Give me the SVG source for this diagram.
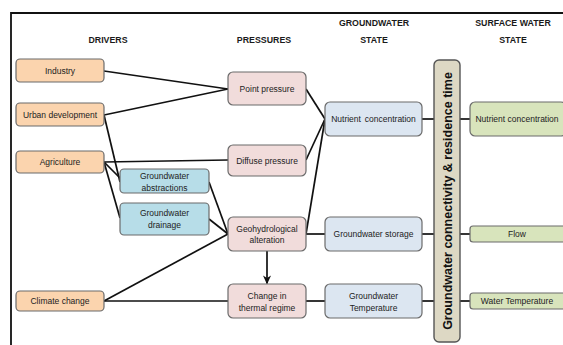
<svg xmlns="http://www.w3.org/2000/svg" width="563" height="345" viewBox="0 0 563 345">
<defs>
<style>
.hdr{font-family:"Liberation Sans",Arial,sans-serif;font-size:8.8px;font-weight:bold;fill:#1a1a1a;text-anchor:middle}
.t{font-family:"Liberation Sans",Arial,sans-serif;font-size:8.5px;fill:#222;text-anchor:middle}
.box{stroke:#6b6b6b;stroke-width:1.2}
.drv{fill:#fbd4ae}
.gw{fill:#b7dde8}
.prs{fill:#f1dcdb}
.gws{fill:#dce6f1}
.sws{fill:#d8e4bc}
.conn line,.conn polyline{stroke:#111;stroke-width:1.7;fill:none}
</style>
<marker id="arr" viewBox="0 0 10 10" refX="9" refY="5" markerWidth="9" markerHeight="9" orient="auto" markerUnits="userSpaceOnUse">
<path d="M0,0.5 L10,5 L0,9.5 L3,5 z" fill="#111"/>
</marker>
</defs>
<rect width="563" height="345" fill="#fff"/>
<g id="frame">
<polyline points="11,345 11,13 563,13" fill="none" stroke="#111" stroke-width="1.8"/>
</g>
<g id="headers">
<text class="hdr" x="108" y="42.5">DRIVERS</text>
<text class="hdr" x="264" y="42.5">PRESSURES</text>
<text class="hdr" x="374" y="25.5">GROUNDWATER</text>
<text class="hdr" x="374" y="42.5">STATE</text>
<text class="hdr" x="513" y="25.5">SURFACE WATER</text>
<text class="hdr" x="513" y="42.5">STATE</text>
</g>
<g class="conn" id="connectors">
<line x1="104" y1="71" x2="228" y2="89"/>
<line x1="104" y1="115" x2="228" y2="89"/>
<line x1="104" y1="115" x2="120" y2="182"/>
<line x1="104" y1="162" x2="228" y2="160"/>
<line x1="104" y1="162" x2="120" y2="178"/>
<line x1="104" y1="162" x2="120" y2="218"/>
<line x1="209" y1="182" x2="228" y2="234"/>
<line x1="209" y1="219" x2="228" y2="234"/>
<line x1="104" y1="301" x2="228" y2="234"/>
<line x1="104" y1="301" x2="228" y2="301"/>
<line x1="267" y1="251" x2="267" y2="283.5" stroke-width="2" marker-end="url(#arr)"/>
<line x1="306" y1="89" x2="325" y2="119"/>
<line x1="306" y1="160" x2="325" y2="119"/>
<line x1="306" y1="234" x2="325" y2="119"/>
<line x1="306" y1="234" x2="325" y2="234"/>
<line x1="306" y1="301" x2="325" y2="301"/>
<line x1="422" y1="119" x2="434" y2="119"/>
<line x1="460" y1="119" x2="470" y2="119"/>
<line x1="422" y1="234" x2="434" y2="234"/>
<line x1="460" y1="234" x2="470" y2="234"/>
<line x1="422" y1="301" x2="434" y2="301"/>
<line x1="460" y1="301" x2="470" y2="301"/>
</g>
<g id="industry"><rect class="box drv" x="16" y="59" width="88" height="23" rx="4"/><text class="t" x="60" y="73.5">Industry</text></g>
<g id="urban"><rect class="box drv" x="16" y="103" width="88" height="23" rx="4"/><text class="t" x="60" y="117.5">Urban development</text></g>
<g id="agriculture"><rect class="box drv" x="16" y="151" width="88" height="22" rx="4"/><text class="t" x="60" y="165">Agriculture</text></g>
<g id="climate"><rect class="box drv" x="16" y="291" width="88" height="20" rx="4"/><text class="t" x="60" y="304">Climate change</text></g>
<g id="abstractions"><rect class="box gw" x="120" y="169" width="89" height="24" rx="4"/><text class="t" x="164.5" y="178.5">Groundwater</text><text class="t" x="164.5" y="190.5">abstractions</text></g>
<g id="drainage"><rect class="box gw" x="120" y="203" width="89" height="32" rx="4"/><text class="t" x="164.5" y="216">Groundwater</text><text class="t" x="164.5" y="228">drainage</text></g>
<g id="point"><rect class="box prs" x="228" y="72" width="78" height="33" rx="5"/><text class="t" x="267" y="91.5">Point pressure</text></g>
<g id="diffuse"><rect class="box prs" x="228" y="145" width="78" height="31" rx="5"/><text class="t" x="267" y="163.5">Diffuse pressure</text></g>
<g id="geohydro"><rect class="box prs" x="228" y="217" width="78" height="34" rx="5"/><text class="t" x="267" y="231.5">Geohydrological</text><text class="t" x="267" y="243">alteration</text></g>
<g id="thermal"><rect class="box prs" x="228" y="284" width="78" height="34" rx="5"/><text class="t" x="267" y="298.5">Change in</text><text class="t" x="267" y="310.5">thermal regime</text></g>
<g id="gw-nutrient"><rect class="box gws" x="325" y="102" width="97" height="34" rx="5"/><text class="t" x="373.5" y="122" word-spacing="1.5">Nutrient concentration</text></g>
<g id="gw-storage"><rect class="box gws" x="325" y="217" width="97" height="34" rx="5"/><text class="t" x="373.5" y="237">Groundwater storage</text></g>
<g id="gw-temp"><rect class="box gws" x="325" y="284" width="97" height="34" rx="5"/><text class="t" x="373.5" y="298.5">Groundwater</text><text class="t" x="373.5" y="310.5">Temperature</text></g>
<g id="connectivity"><rect x="434" y="60" width="26" height="282" rx="5" fill="#ddd8c4" stroke="#555" stroke-width="1.4"/><text transform="translate(451.5,201) rotate(-90)" font-family="'Liberation Sans',Arial,sans-serif" font-size="12.5" font-weight="bold" fill="#111" text-anchor="middle">Groundwater connectivity &amp; residence time</text></g>
<g id="sw-nutrient"><rect class="box sws" x="470" y="102" width="96" height="34" rx="5"/><text class="t" x="517" y="122">Nutrient concentration</text></g>
<g id="sw-flow"><rect class="box sws" x="470" y="226" width="96" height="16" rx="3"/><text class="t" x="517" y="237">Flow</text></g>
<g id="sw-temp"><rect class="box sws" x="470" y="293" width="96" height="16" rx="3"/><text class="t" x="517" y="304">Water Temperature</text></g>
</svg>
